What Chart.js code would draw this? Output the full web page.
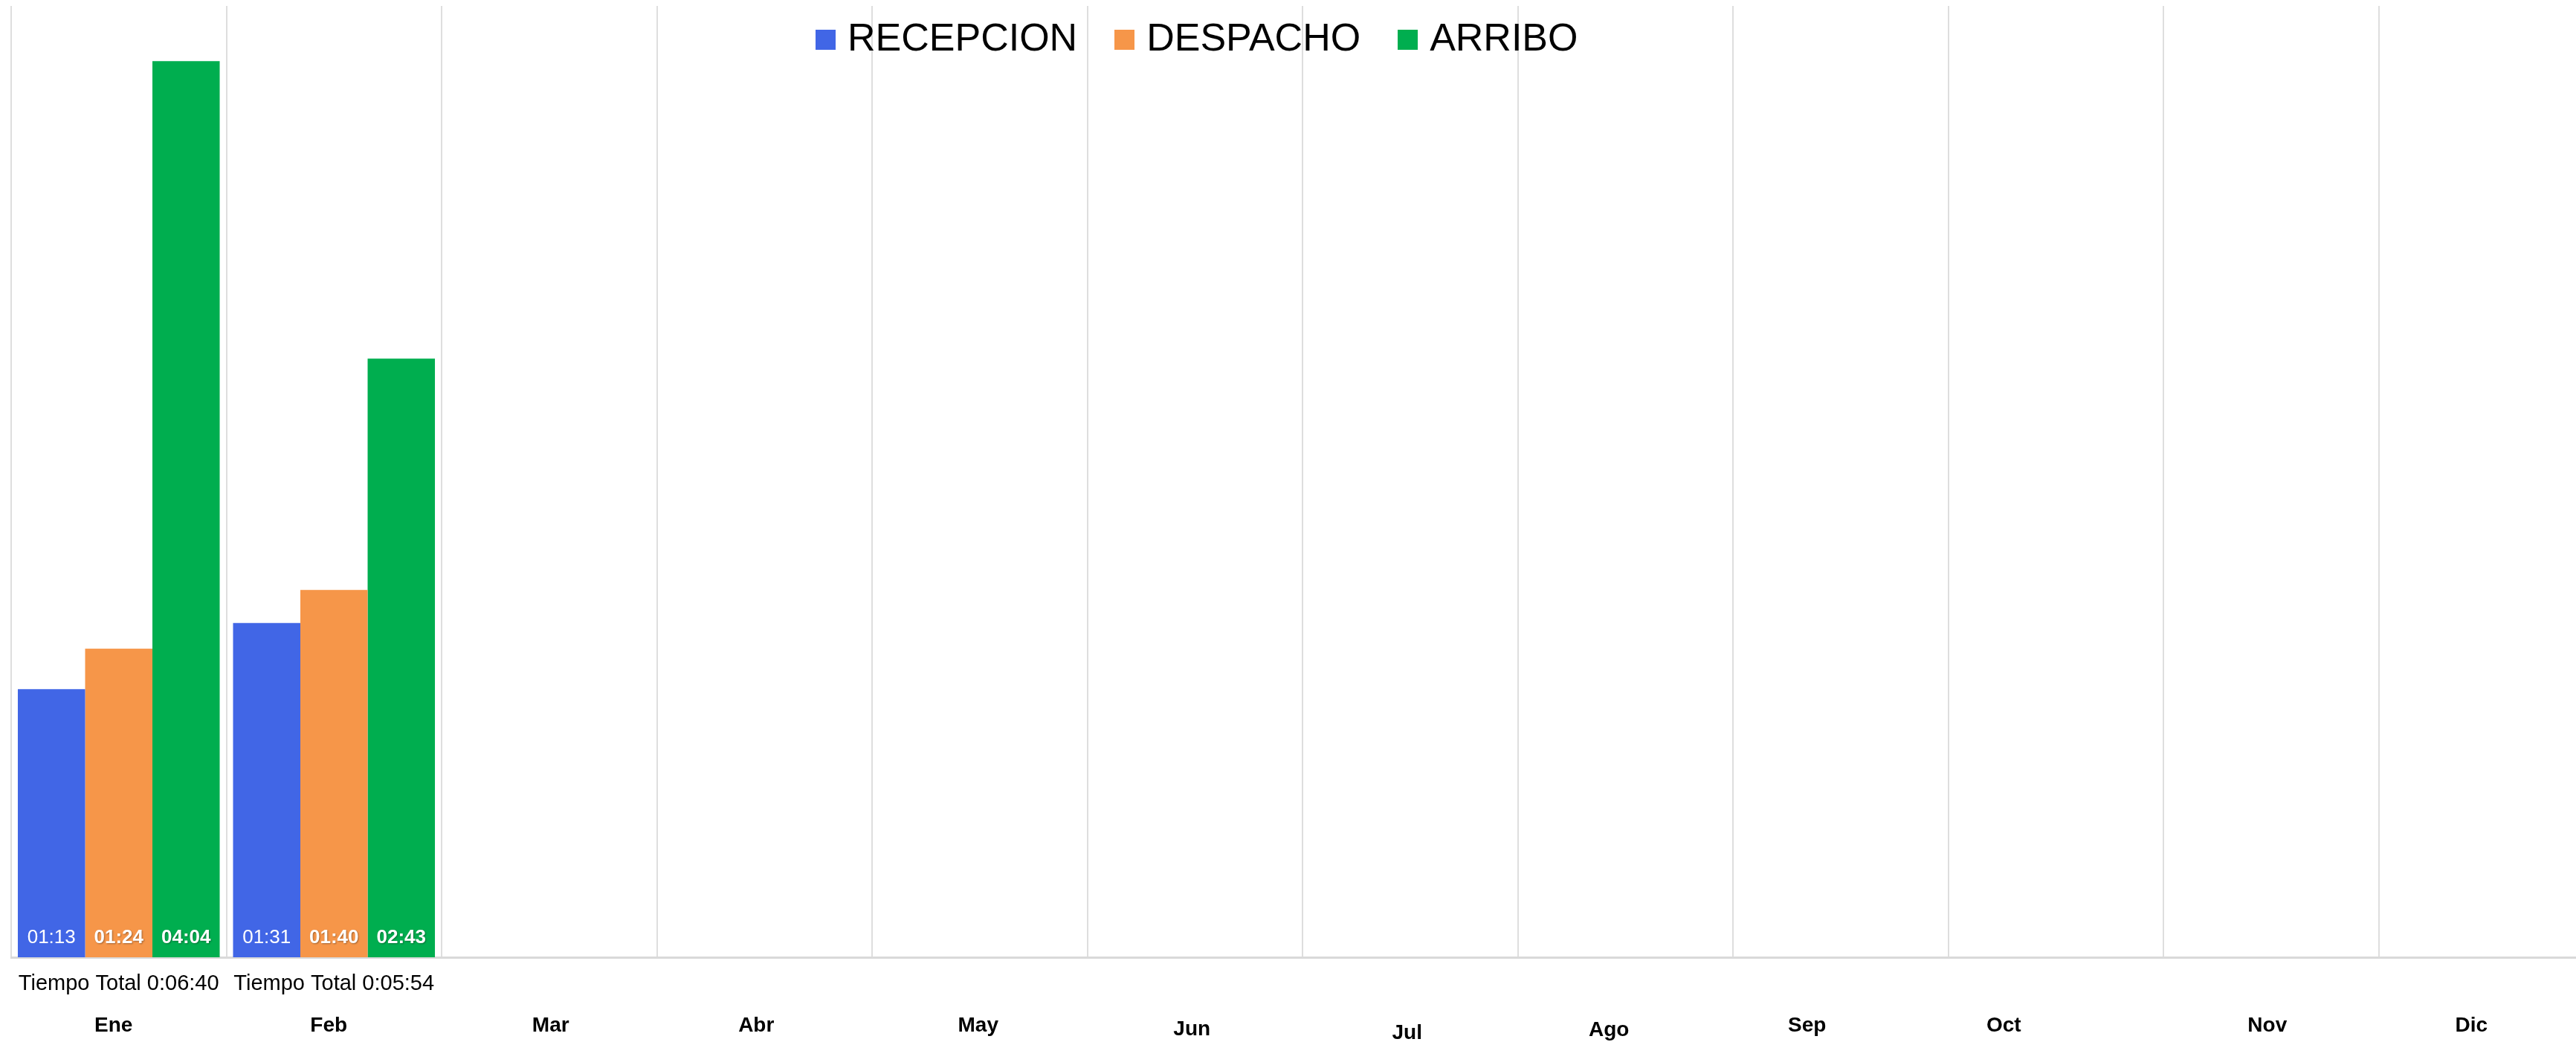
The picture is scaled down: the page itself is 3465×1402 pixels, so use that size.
<!DOCTYPE html>
<html><head><meta charset="utf-8">
<script src="https://cdn.jsdelivr.net/npm/chart.js@4.4.1/dist/chart.umd.min.js"></script>
<style>
html,body{margin:0;padding:0;background:#fff;overflow:hidden;width:3465px;height:1402px;}
#wrap{position:relative;width:3490px;height:1402px;}
</style></head><body>
<div id="wrap"><canvas id="c" width="3490" height="1402"></canvas></div>
<script>
// ---- data ----
const months = ['Ene','Feb','Mar','Abr','May','Jun','Jul','Ago','Sep','Oct','Nov','Dic'];
const totalLabels = ['Tiempo Total 0:06:40','Tiempo Total 0:05:54','','','','','','','','','',''];
const seriesNames = ['RECEPCION','DESPACHO','ARRIBO'];
// values in seconds (shown as mm:ss)
const recepcion = [73, 91, null, null, null, null, null, null, null, null, null, null];
const despacho  = [84, 100, null, null, null, null, null, null, null, null, null, null];
const arribo    = [244, 163, null, null, null, null, null, null, null, null, null, null];

// ---- styles ----
const FAMILY = '"Liberation Sans", Arial, Helvetica, sans-serif';
const seriesColors = ['#4166e6', '#f69649', '#00ae4f'];
// small per-label nudges of the month labels (px), as placed in the original
const monthNudgeX = [-7, -7, 2, -11, -2, -4, -4, -22, -45, -70, -5, -20];
const monthNudgeY = [0, 0, 0, 0, 0, 5, 10, 6, 0, 0, 0, 0];

function fmt(s){
  const m = Math.floor(s/60), r = s % 60;
  return String(m).padStart(2,'0') + ':' + String(r).padStart(2,'0');
}

function makeSquare(color){
  const c = document.createElement('canvas');
  c.width = 27; c.height = 28;
  const g = c.getContext('2d');
  g.fillStyle = color;
  g.fillRect(0, 0, 27, 27);
  return c;
}
const squares = seriesColors.map(makeSquare);

const barLabels = {
  id: 'barLabels',
  afterDatasetsDraw(chart){
    const ctx = chart.ctx;
    chart.data.datasets.forEach((ds, di) => {
      const meta = chart.getDatasetMeta(di);
      meta.data.forEach((bar, i) => {
        const v = ds.data[i];
        if (v == null) return;
        ctx.save();
        ctx.font = (di === 0 ? 'normal ' : 'bold ') + '26px ' + FAMILY;
        ctx.fillStyle = '#ffffff';
        ctx.textAlign = 'center';
        ctx.textBaseline = 'middle';
        if (di > 0) {
          ctx.shadowColor = 'rgba(0,0,0,0.35)';
          ctx.shadowOffsetX = 1; ctx.shadowOffsetY = 1; ctx.shadowBlur = 2;
        }
        ctx.fillText(fmt(v), bar.x, bar.base - 26);
        ctx.restore();
      });
    });
  }
};

// legend overlays the top of the plot area
const legendPlace = {
  id: 'legendPlace',
  afterLayout(chart){
    const lg = chart.legend;
    if (!lg) return;
    lg.left = 1047;
    lg.right = 3489;
    lg.top = -32;
    lg.bottom = 200;
  }
};

// nudge month labels of the outer axis
const monthNudge = {
  id: 'monthNudge',
  beforeDraw(chart){
    const s = chart.scales.x2;
    if (!s) return;
    const items = s.getLabelItems(chart.chartArea);
    if (items._nudged) return;
    items.forEach((it, i) => {
      const t = it.options.translation;
      it.options.translation = [t[0] + (monthNudgeX[i] || 0), t[1] + (monthNudgeY[i] || 0)];
    });
    items._nudged = true;
  }
};

const datasets = [recepcion, despacho, arribo].map((d, i) => ({
  label: seriesNames[i],
  data: d,
  backgroundColor: seriesColors[i],
  borderWidth: 0,
  categoryPercentage: 0.938,
  barPercentage: 1.0
}));

new Chart(document.getElementById('c'), {
  type: 'bar',
  data: { labels: months, datasets },
  options: {
    responsive: false,
    devicePixelRatio: 1,
    animation: false,
    layout: { padding: { left: 15, top: 7, right: 1, bottom: 1.6 } },
    plugins: {
      tooltip: { enabled: false },
      legend: {
        position: 'top',
        align: 'start',
        maxHeight: 1,
        labels: {
          color: '#000',
          font: { size: 52, family: FAMILY },
          padding: 60,
          usePointStyle: true,
          pointStyleWidth: 7,
          generateLabels(chart){
            const items = Chart.defaults.plugins.legend.labels.generateLabels(chart);
            items.forEach((it, i) => { it.pointStyle = squares[i]; });
            return items;
          }
        }
      }
    },
    scales: {
      x: {
        type: 'category',
        labels: totalLabels,
        position: 'bottom',
        offset: true,
        weight: 0,
        grid: { display: true, offset: true, color: '#dedede', lineWidth: 2, drawTicks: false },
        border: { display: true, color: '#d9d9d9', width: 3 },
        ticks: { autoSkip: false, maxRotation: 0, minRotation: 0, padding: 19, color: '#000',
                 font: { size: 29, family: FAMILY } }
      },
      x2: {
        type: 'category',
        labels: months,
        position: 'bottom',
        offset: true,
        weight: 1,
        grid: { display: false, drawTicks: false },
        border: { display: false },
        ticks: { autoSkip: false, maxRotation: 0, minRotation: 0, padding: 3, color: '#000',
                 font: { size: 28, weight: 'bold', family: FAMILY } }
      },
      y: {
        display: false,
        min: 0,
        max: 259
      }
    }
  },
  plugins: [barLabels, legendPlace, monthNudge]
});
</script>
</body></html>
